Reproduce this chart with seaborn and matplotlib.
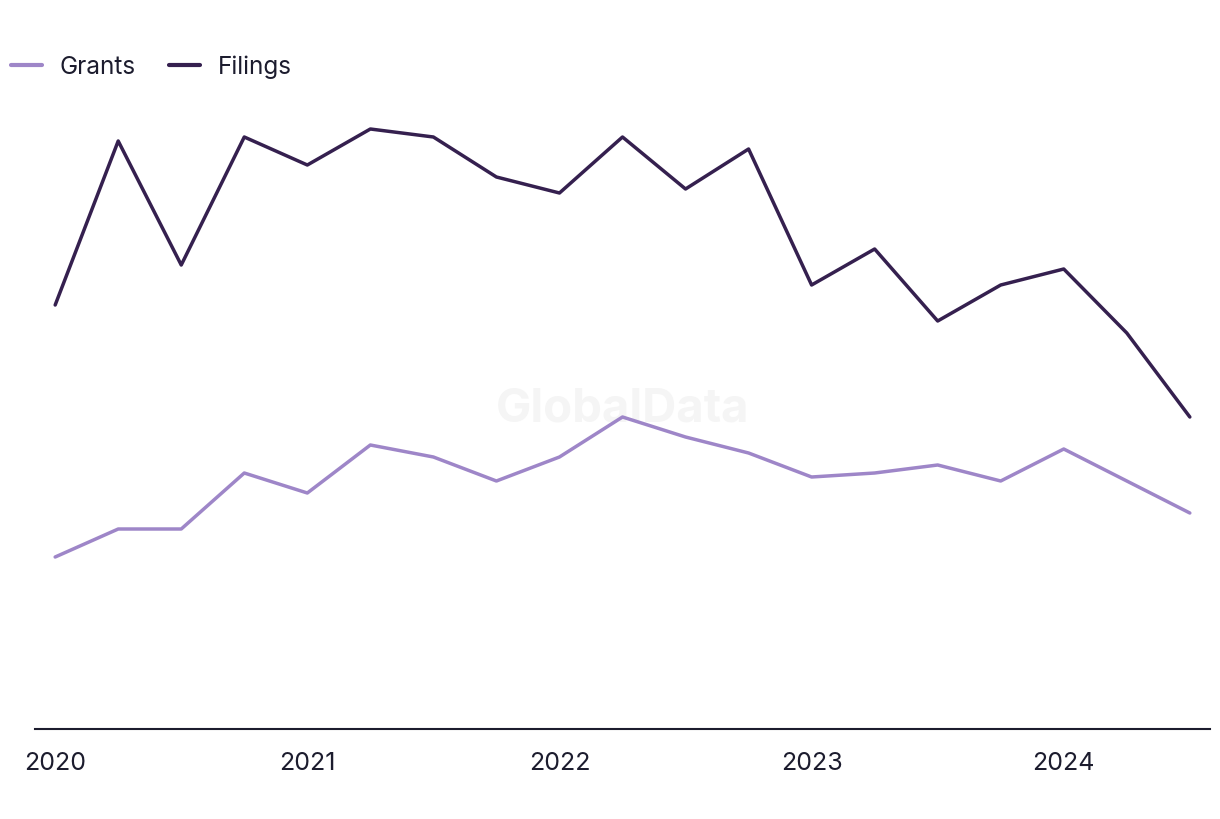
import matplotlib
matplotlib.use("Agg")
import matplotlib.pyplot as plt
import pandas as pd
import seaborn as sns

# quarterly data, 2020 Q1 - 2024 Q3
quarters = ["2020 Q1", "2020 Q2", "2020 Q3", "2020 Q4",
            "2021 Q1", "2021 Q2", "2021 Q3", "2021 Q4",
            "2022 Q1", "2022 Q2", "2022 Q3", "2022 Q4",
            "2023 Q1", "2023 Q2", "2023 Q3", "2023 Q4",
            "2024 Q1", "2024 Q2", "2024 Q3"]
filings = [106, 147, 116, 148, 141, 150, 148, 138, 134, 148, 135, 145,
           111, 120, 102, 111, 115, 99, 78]
grants = [43, 50, 50, 64, 59, 71, 68, 62, 68, 78, 73, 69,
          63, 64, 66, 62, 70, 62, 54]
year_labels = ["2020", "2021", "2022", "2023", "2024"]

n = len(quarters)
data = pd.DataFrame({
    "Quarter": list(range(n)) * 2,
    "Count": grants + filings,
    "Series": ["Grants"] * n + ["Filings"] * n,
})

sns.set_style("white")
plt.rcParams["font.family"] = ["Inter", "DejaVu Sans"]
text_color = "#1c1c2e"

fig = plt.figure(figsize=(12.2, 8.2), dpi=100)
ax = fig.add_axes([35 / 1220, 90 / 820, 1175 / 1220, 640 / 820])

sns.lineplot(data=data, x="Quarter", y="Count", hue="Series",
             palette={"Grants": "#9e86c8", "Filings": "#35204f"},
             linewidth=2.5, ax=ax)

ax.set_xlim(-0.32, n - 1 + 0.32)
ax.set_ylim(0, 160)
ax.set_xticks([0, 4, 8, 12, 16])
ax.set_xticklabels(year_labels, fontsize=18, color=text_color)
ax.set_yticks([])
ax.set_xlabel("")
ax.set_ylabel("")
ax.tick_params(axis="x", length=0, pad=16)
for side in ["top", "right", "left"]:
    ax.spines[side].set_visible(False)
ax.spines["bottom"].set_color(text_color)
ax.spines["bottom"].set_linewidth(1.5)

ax.text(0.5, 0.5, "GlobalData", transform=ax.transAxes, fontsize=34,
        fontweight="bold", color="#f5f5f5", ha="center", va="center", zorder=0)

leg = ax.legend(loc="upper left", bbox_to_anchor=(-46 / 1175, 1.088),
                ncol=2, frameon=False, fontsize=17.5, handlelength=1.28,
                columnspacing=1.36, handletextpad=0.74)
for t in leg.get_texts():
    t.set_color(text_color)
for line in leg.get_lines():
    line.set_linewidth(3)

fig.savefig("out.png", dpi=100)
